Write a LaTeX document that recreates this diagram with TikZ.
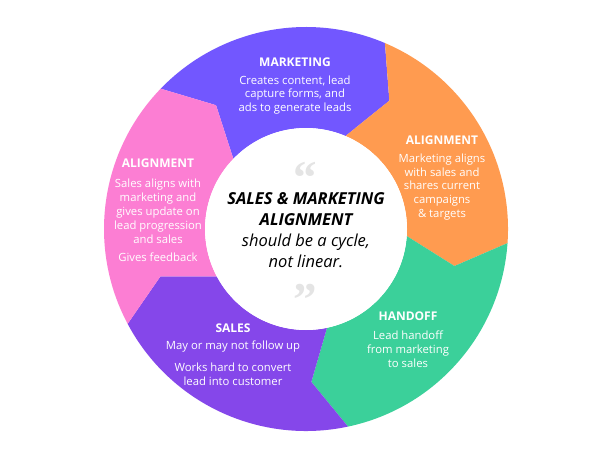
\documentclass[tikz,border=0pt]{standalone}
\usepackage{fontspec}
\setmainfont{Open Sans}
\newfontfamily\quotefont{Liberation Serif}
\definecolor{cmark}{HTML}{7257FF}
\definecolor{corange}{HTML}{FF9B50}
\definecolor{cgreen}{HTML}{3BD09A}
\definecolor{csales}{HTML}{8547EA}
\definecolor{cpink}{HTML}{FC7ED3}
\definecolor{cquote}{HTML}{E4E4E4}
\begin{document}
\begin{tikzpicture}[x=1pt,y=1pt,
  hdr/.style={text=white,font=\fontsize{12}{14}\selectfont\bfseries,inner sep=0pt},
  bodytext/.style={text=white,font=\fontsize{11.3}{13.9}\selectfont,align=center,inner sep=0pt},
  quotemark/.style={text=cquote,font=\fontsize{47}{47}\selectfont\quotefont\bfseries,inner sep=0pt,
    anchor=base,text height=0.7em,text depth=-0.36em},
  titletext/.style={align=center,inner sep=0pt,text=black,font=\fontsize{16.5}{21}\selectfont\itshape}]
\useasboundingbox (0,0) rectangle (612,459);
\def\R{202}\def\r{101}\def\m{153}
\begin{scope}[shift={(306,230)}]
% segment: a -> b (clockwise)
\newcommand\segment[3]{%
  \fill[#3] (#1:\R) arc[start angle=#1,end angle=#2,radius=\R]
    -- ({#2-10}:\m) -- (#2:\r) arc[start angle=#2,end angle=#1,radius=\r]
    -- ({#1-10}:\m) -- cycle;}
\segment{136}{67}{cmark}
\segment{67}{-4}{corange}
\segment{-4}{-78}{cgreen}
\segment{-78}{-152}{csales}
\segment{208}{136}{cpink}
\fill[white] (0,0) circle (\r);
\end{scope}
% center
\node[quotemark] (q1) at (305.5,266) {“};
\node[quotemark] (q2) at (305.5,144) {”};
\node[titletext] (title) at (306,229) {%
  \textbf{SALES \& MARKETING}\\
  \textbf{ALIGNMENT}\\
  should be a cycle,\\
  not linear.};
% marketing
\node[hdr] (h1) at (295,397) {MARKETING};
\node[bodytext] (b1) at (295,364) {Creates content, lead\\capture forms, and\\ads to generate leads};
% orange alignment
\node[hdr] (h2) at (442,319) {ALIGNMENT};
\node[bodytext] (b2) at (442,272) {Marketing aligns\\with sales and\\shares current\\campaigns\\\& targets};
% handoff
\node[hdr] (h3) at (408,143) {HANDOFF};
\node[bodytext] (b3) at (408,110) {Lead handoff\\from marketing\\to sales};
% sales
\node[hdr] (h4) at (233,131) {SALES};
\node[bodytext] (b4) at (233,112) {May or may not follow up};
\node[bodytext] (b4b) at (233,85) {Works hard to convert\\lead into customer};
% pink alignment
\node[hdr] (h5) at (158,296) {ALIGNMENT};
\node[bodytext] (b5) at (158,248) {Sales aligns with\\marketing and\\gives update on\\lead progression\\and sales};
\node[bodytext] (b5b) at (158,202) {Gives feedback};
\end{tikzpicture}
\end{document}
